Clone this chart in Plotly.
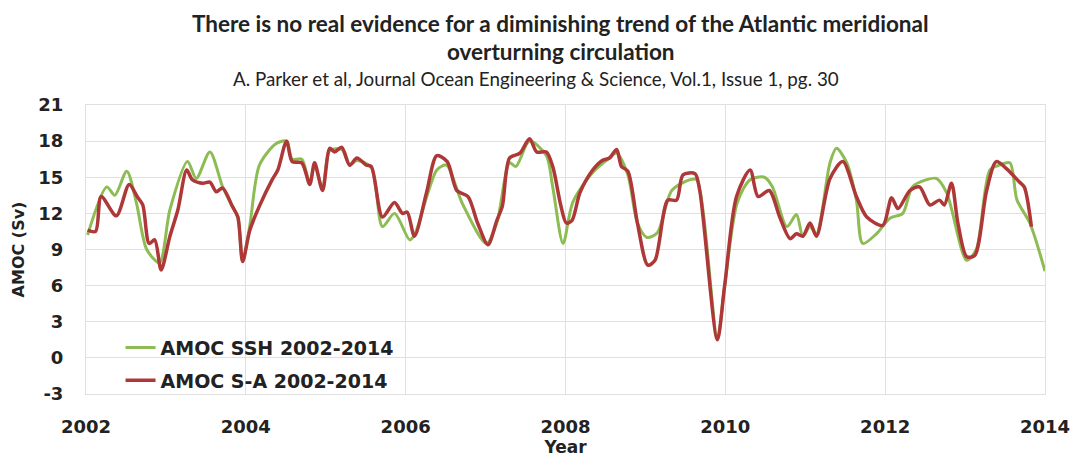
import plotly.graph_objects as go

sa_years = [2002.02, 2002.12, 2002.19, 2002.38, 2002.54, 2002.64, 2002.71, 2002.79, 2002.86, 2002.94,
            2003.05, 2003.15, 2003.26, 2003.33, 2003.46, 2003.55, 2003.63, 2003.71, 2003.83, 2003.90,
            2003.96, 2004.05, 2004.17, 2004.33, 2004.40, 2004.51, 2004.58, 2004.70, 2004.80, 2004.86,
            2004.96, 2005.05, 2005.11, 2005.20, 2005.30, 2005.39, 2005.51, 2005.57, 2005.71, 2005.86,
            2005.96, 2006.02, 2006.11, 2006.26, 2006.39, 2006.52, 2006.64, 2006.78, 2006.90, 2007.03,
            2007.14, 2007.21, 2007.30, 2007.43, 2007.55, 2007.64, 2007.76, 2007.84, 2007.94, 2008.01,
            2008.08, 2008.18, 2008.34, 2008.46, 2008.55, 2008.64, 2008.70, 2008.78, 2008.90, 2009.03,
            2009.12, 2009.28, 2009.39, 2009.47, 2009.62, 2009.68, 2009.90, 2009.99, 2010.14, 2010.31,
            2010.41, 2010.55, 2010.68, 2010.81, 2010.89, 2010.97, 2011.06, 2011.14, 2011.31, 2011.47,
            2011.64, 2011.77, 2011.97, 2012.08, 2012.16, 2012.31, 2012.43, 2012.56, 2012.68, 2012.74,
            2012.83, 2012.91, 2013.02, 2013.12, 2013.27, 2013.39, 2013.52, 2013.68, 2013.74, 2013.83]
sa_values = [10.6, 10.5, 13.4, 11.8, 14.4, 13.4, 12.7, 9.5, 9.8, 7.3,
             10.1, 12.3, 15.6, 14.8, 14.5, 14.6, 13.8, 14.1, 12.6, 11.7,
             8.0, 10.6, 12.6, 14.8, 15.6, 18.0, 16.3, 16.2, 14.4, 16.2,
             13.9, 17.4, 17.1, 17.5, 16.0, 16.6, 16.0, 15.9, 11.7, 12.9,
             12.0, 12.1, 10.1, 13.7, 16.8, 16.3, 13.9, 13.4, 11.2, 9.4,
             11.4, 12.6, 16.6, 17.0, 18.2, 17.1, 17.1, 15.9, 12.7, 11.2,
             11.4, 13.7, 15.6, 16.4, 16.6, 17.3, 15.9, 15.5, 11.2, 7.7,
             8.1, 13.1, 13.1, 15.2, 15.3, 13.9, 1.5, 5.9, 13.4, 15.6,
             13.4, 13.9, 11.7, 9.9, 10.3, 10.1, 11.2, 10.1, 14.9, 16.3,
             13.4, 11.7, 11.0, 13.3, 12.4, 13.9, 14.2, 12.7, 13.1, 12.7,
             14.5, 11.2, 8.4, 8.5, 13.9, 16.3, 15.7, 14.6, 14.2, 10.9]

ssh_years = [2002.02, 2002.26, 2002.36, 2002.51, 2002.63, 2002.76, 2002.92, 2003.05, 2003.27, 2003.38,
             2003.55, 2003.71, 2003.83, 2003.90, 2003.96, 2004.05, 2004.17, 2004.38, 2004.51, 2004.58,
             2004.70, 2004.80, 2004.86, 2004.96, 2005.05, 2005.20, 2005.30, 2005.39, 2005.57, 2005.71,
             2005.86, 2006.05, 2006.11, 2006.39, 2006.51, 2006.71, 2007.01, 2007.14, 2007.30, 2007.38,
             2007.55, 2007.76, 2007.84, 2007.97, 2008.09, 2008.34, 2008.55, 2008.64, 2008.78, 2008.90,
             2009.02, 2009.15, 2009.33, 2009.56, 2009.64, 2009.90, 2009.99, 2010.15, 2010.31, 2010.49,
             2010.59, 2010.77, 2010.89, 2010.97, 2011.06, 2011.14, 2011.31, 2011.39, 2011.52, 2011.64,
             2011.72, 2011.89, 2012.06, 2012.22, 2012.34, 2012.52, 2012.64, 2012.77, 2013.02, 2013.14,
             2013.31, 2013.43, 2013.56, 2013.65, 2013.81, 2014.00]
ssh_values = [10.2, 14.2, 13.5, 15.5, 12.9, 9.0, 7.9, 12.3, 16.3, 14.9,
              17.1, 14.2, 12.6, 11.7, 8.0, 11.0, 16.0, 17.8, 18.0, 16.5,
              16.5, 14.5, 16.0, 14.1, 17.2, 17.3, 16.0, 16.4, 15.8, 10.9,
              12.0, 9.8, 10.2, 15.6, 16.0, 12.8, 9.5, 11.2, 16.2, 15.9,
              18.0, 16.8, 14.2, 9.5, 12.9, 15.4, 16.6, 17.0, 15.2, 11.2,
              10.0, 10.4, 13.9, 14.8, 14.8, 1.7, 5.9, 12.9, 14.8, 15.0,
              14.2, 10.9, 11.9, 10.1, 10.9, 10.3, 16.2, 17.4, 16.2, 13.1,
              9.5, 10.3, 11.6, 12.0, 14.2, 14.8, 14.9, 13.7, 8.1, 9.0,
              15.6, 16.0, 16.2, 13.1, 11.2, 7.2]

x_ticks = [2002, 2004, 2006, 2008, 2010, 2012, 2014]
y_ticks = [-3, 0, 3, 6, 9, 12, 15, 18, 21]

axis_font = 'DejaVu Sans, Verdana, sans-serif'
title_font = 'Lato, Calibri, sans-serif'

fig = go.Figure()
fig.add_trace(go.Scatter(
    x=ssh_years, y=ssh_values, mode='lines', name='<b>AMOC SSH 2002-2014</b>',
    legendgroup='ssh',
    line=dict(color='#8dbb54', width=3, shape='spline', smoothing=0.8)
))
fig.add_trace(go.Scatter(
    x=sa_years, y=sa_values, mode='lines', name='<b>AMOC S-A 2002-2014</b>',
    legendgroup='sa',
    line=dict(color='#ae3838', width=3.5, shape='spline', smoothing=0.8)
))

fig.update_layout(
    width=1085, height=462,
    margin=dict(l=86, r=40, t=105, b=68),
    paper_bgcolor='white', plot_bgcolor='white',
    font=dict(family=axis_font, color='#222222'),
    showlegend=True,
    legend=dict(x=0.036, y=0.226, xanchor='left', yanchor='top',
                bgcolor='rgba(0,0,0,0)', font=dict(size=19, color='#222222', family=axis_font),
                tracegroupgap=5),
    annotations=[
        dict(text='<b>There is no real evidence for a diminishing trend of the Atlantic meridional</b>',
             xref='paper', yref='paper', x=0.4953, y=1.2837, xanchor='center', yanchor='middle',
             showarrow=False, font=dict(family=title_font, size=22.5, color='#222222')),
        dict(text='<b>overturning circulation</b>',
             xref='paper', yref='paper', x=0.4953, y=1.1834, xanchor='center', yanchor='middle',
             showarrow=False, font=dict(family=title_font, size=22.5, color='#222222')),
        dict(text='A. Parker et al, Journal Ocean Engineering &amp; Science, Vol.1, Issue 1, pg. 30',
             xref='paper', yref='paper', x=0.4692, y=1.0934, xanchor='center', yanchor='middle',
             showarrow=False, font=dict(family=title_font, size=18.8, color='#222222')),
    ],
)
fig.update_xaxes(
    range=[2002, 2014], tickvals=x_ticks, ticktext=['<b>%d</b>' % v for v in x_ticks],
    showgrid=True, gridcolor='#e0e0e0', gridwidth=1,
    showline=True, linecolor='#e0e0e0', mirror=True,
    zeroline=False, ticks='', ticklabelstandoff=16,
    tickfont=dict(size=18, color='#222222'),
    title=dict(text='<b>Year</b>', font=dict(size=17), standoff=0)
)
fig.update_yaxes(
    range=[-3, 21], tickvals=y_ticks, ticktext=['<b>%d</b>' % v for v in y_ticks],
    showgrid=True, gridcolor='#e0e0e0', gridwidth=1,
    showline=True, linecolor='#e0e0e0', mirror=True,
    zeroline=False, ticks='', ticklabelstandoff=18,
    tickfont=dict(size=18, color='#222222'),
    title=dict(text='<b>AMOC (Sv)</b>', font=dict(size=16), standoff=9)
)

# drop the default body margin so the figure fills the window exactly
fig.write_html("out.html", config={'displayModeBar': False},
               post_script="document.body.style.margin='0';document.body.style.overflow='hidden';")
